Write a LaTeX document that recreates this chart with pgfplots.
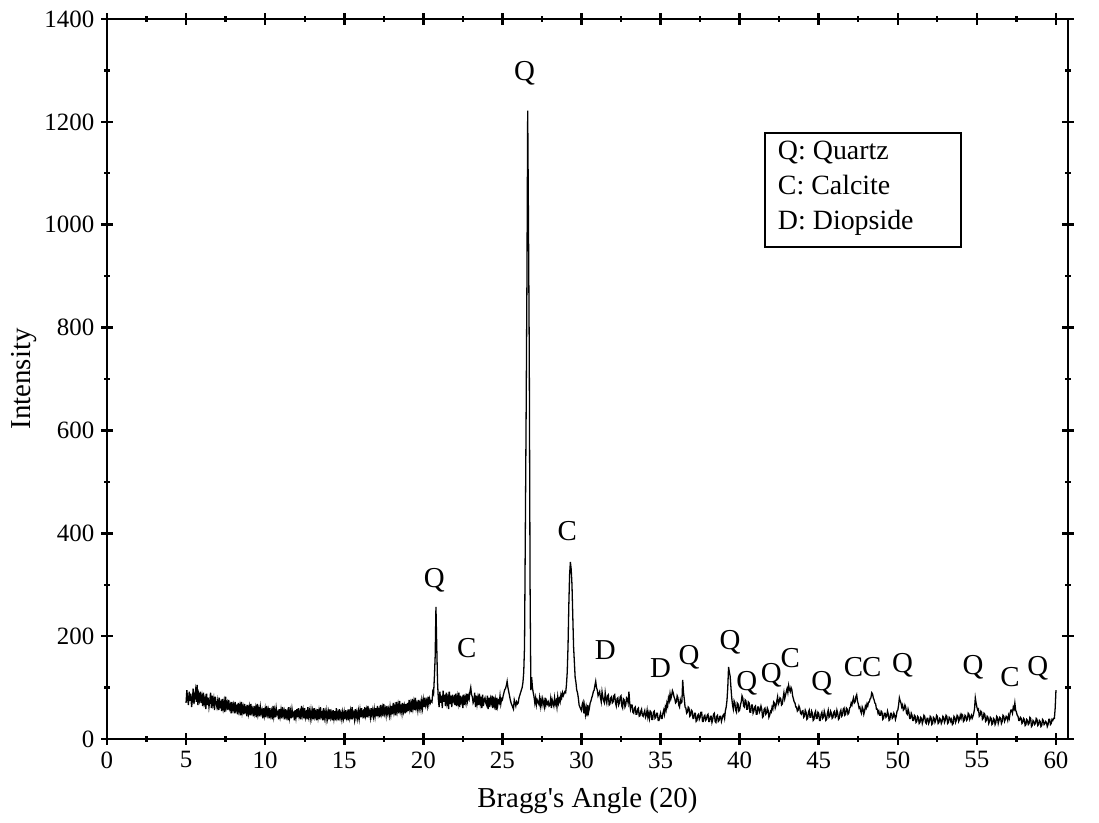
\documentclass[border=0pt]{standalone}
\usepackage{fontspec}
\setmainfont{Liberation Serif}
\usepackage{pgfplots}
\pgfplotsset{compat=1.18}

\begin{document}
\begin{tikzpicture}
\begin{axis}[
  scale only axis, width=16.95cm, height=12.7cm,
  xmin=0, xmax=60.75, ymin=0, ymax=1400,
  xtick={0,5,...,60}, ytick={0,200,...,1400},
  minor tick num=1,
  tick align=center,
  major tick length=0.2cm, minor tick length=0.1cm,
  every major tick/.style={line width=1.3pt, black},
  every minor tick/.style={line width=1.1pt, black},
  axis line style={line width=1pt},
  tick label style={font=\fontsize{12.5}{14}\selectfont},
  /pgf/number format/assume math mode=true,
  /pgf/number format/1000 sep={},
  xlabel={Bragg\textquotesingle s Angle (20)}, ylabel={Intensity},
  label style={font=\fontsize{14.5}{17}\selectfont},
  xlabel style={at={(axis description cs:0.5,-0.085)}, anchor=center},
  ylabel style={at={(axis description cs:-0.086,0.5)}, anchor=center},
  clip=false,
]
% ---- XRD pattern (0.05 deg steps) ----
\addplot[black, line width=0.65pt] coordinates {
(5.00,70)(5.05,95)(5.10,78)(5.15,66)(5.20,92)(5.25,74)(5.30,88)(5.35,62)(5.40,75)(5.45,98)(5.50,68)(5.55,84)(5.60,95)(5.65,72)(5.70,105)(5.75,66)(5.80,86)(5.85,76)(5.90,92)(5.95,70)
(6.00,82)(6.05,64)(6.10,90)(6.15,70)(6.20,78)(6.25,58)(6.30,88)(6.35,66)(6.40,80)(6.45,62)(6.50,74)(6.55,90)(6.60,60)(6.65,84)(6.70,68)(6.75,78)(6.80,56)(6.85,82)(6.90,70)(6.95,62)
(7.00,74)(7.05,56)(7.10,80)(7.15,64)(7.20,70)(7.25,54)(7.30,78)(7.35,60)(7.40,72)(7.45,52)(7.50,82)(7.55,62)(7.60,70)(7.65,56)(7.70,76)(7.75,60)(7.80,66)(7.85,50)(7.90,72)(7.95,58)
(8.00,66)(8.05,50)(8.10,72)(8.15,56)(8.20,62)(8.25,48)(8.30,70)(8.35,54)(8.40,64)(8.45,46)(8.50,72)(8.55,52)(8.60,62)(8.65,48)(8.70,68)(8.75,54)(8.80,60)(8.85,44)(8.90,66)(8.95,50)
(9.00,62)(9.05,46)(9.10,68)(9.15,52)(9.20,58)(9.25,44)(9.30,64)(9.35,50)(9.40,60)(9.45,42)(9.50,68)(9.55,48)(9.60,58)(9.65,44)(9.70,62)(9.75,50)(9.80,56)(9.85,40)(9.90,60)(9.95,46)
(10.00,58)(10.05,42)(10.10,64)(10.15,48)(10.20,56)(10.25,40)(10.30,60)(10.35,46)(10.40,54)(10.45,38)(10.50,64)(10.55,44)(10.60,56)(10.65,42)(10.70,60)(10.75,48)(10.80,52)(10.85,38)(10.90,58)(10.95,44)
(11.00,56)(11.05,40)(11.10,62)(11.15,46)(11.20,54)(11.25,38)(11.30,58)(11.35,44)(11.40,52)(11.45,36)(11.50,62)(11.55,42)(11.60,54)(11.65,40)(11.70,58)(11.75,46)(11.80,50)(11.85,36)(11.90,56)(11.95,42)
(12.00,58)(12.05,42)(12.10,60)(12.15,44)(12.20,52)(12.25,38)(12.30,64)(12.35,46)(12.40,56)(12.45,40)(12.50,60)(12.55,42)(12.60,50)(12.65,38)(12.70,62)(12.75,44)(12.80,54)(12.85,40)(12.90,56)(12.95,42)
(13.00,54)(13.05,38)(13.10,60)(13.15,44)(13.20,52)(13.25,36)(13.30,58)(13.35,42)(13.40,54)(13.45,38)(13.50,62)(13.55,44)(13.60,50)(13.65,36)(13.70,60)(13.75,42)(13.80,52)(13.85,38)(13.90,54)(13.95,40)
(14.00,52)(14.05,38)(14.10,58)(14.15,42)(14.20,50)(14.25,36)(14.30,56)(14.35,40)(14.40,54)(14.45,36)(14.50,60)(14.55,42)(14.60,50)(14.65,36)(14.70,58)(14.75,42)(14.80,50)(14.85,38)(14.90,52)(14.95,40)
(15.00,52)(15.05,38)(15.10,56)(15.15,42)(15.20,50)(15.25,36)(15.30,58)(15.35,42)(15.40,54)(15.45,38)(15.50,62)(15.55,44)(15.60,50)(15.65,38)(15.70,58)(15.75,42)(15.80,52)(15.85,40)(15.90,54)(15.95,40)
(16.00,56)(16.05,42)(16.10,60)(16.15,46)(16.20,52)(16.25,40)(16.30,62)(16.35,46)(16.40,56)(16.45,42)(16.50,64)(16.55,48)(16.60,54)(16.65,42)(16.70,60)(16.75,46)(16.80,56)(16.85,44)(16.90,58)(16.95,44)
(17.00,60)(17.05,44)(17.10,64)(17.15,48)(17.20,56)(17.25,42)(17.30,66)(17.35,50)(17.40,60)(17.45,44)(17.50,68)(17.55,50)(17.60,58)(17.65,46)(17.70,64)(17.75,50)(17.80,58)(17.85,46)(17.90,62)(17.95,48)
(18.00,64)(18.05,48)(18.10,70)(18.15,52)(18.20,62)(18.25,46)(18.30,72)(18.35,54)(18.40,66)(18.45,50)(18.50,74)(18.55,54)(18.60,62)(18.65,50)(18.70,70)(18.75,54)(18.80,64)(18.85,50)(18.90,68)(18.95,52)
(19.00,70)(19.05,54)(19.10,76)(19.15,58)(19.20,68)(19.25,52)(19.30,78)(19.35,60)(19.40,72)(19.45,56)(19.50,80)(19.55,60)(19.60,68)(19.65,56)(19.70,76)(19.75,60)(19.80,70)(19.85,58)(19.90,74)(19.95,60)
(20.00,76)(20.05,62)(20.10,80)(20.15,66)(20.20,74)(20.25,64)(20.30,82)(20.35,68)(20.40,78)(20.45,70)(20.50,74)(20.55,72)(20.60,92)(20.65,88)(20.70,120)(20.75,160)(20.80,257)(20.85,180)(20.90,110)(20.95,78)
(21.00,62)(21.05,92)(21.10,70)(21.15,84)(21.20,60)(21.25,94)(21.30,72)(21.35,86)(21.40,64)(21.45,90)(21.50,70)(21.55,80)(21.60,58)(21.65,92)(21.70,68)(21.75,84)(21.80,62)(21.85,86)(21.90,74)(21.95,80)
(22.00,66)(22.05,88)(22.10,64)(22.15,82)(22.20,70)(22.25,90)(22.30,62)(22.35,84)(22.40,72)(22.45,78)(22.50,60)(22.55,86)(22.60,66)(22.65,80)(22.70,70)(22.75,88)(22.80,74)(22.85,84)(22.90,78)(22.95,92)
(23.00,100)(23.05,86)(23.10,82)(23.15,70)(23.20,74)(23.25,90)(23.30,62)(23.35,84)(23.40,68)(23.45,80)(23.50,66)(23.55,88)(23.60,70)(23.65,82)(23.70,60)(23.75,86)(23.80,64)(23.85,76)(23.90,80)(23.95,70)
(24.00,66)(24.05,84)(24.10,58)(24.15,80)(24.20,62)(24.25,78)(24.30,70)(24.35,84)(24.40,60)(24.45,82)(24.50,66)(24.55,76)(24.60,56)(24.65,80)(24.70,64)(24.75,74)(24.80,70)(24.85,84)(24.90,68)(24.95,78)
(25.00,76)(25.05,84)(25.10,90)(25.15,96)(25.20,98)(25.25,104)(25.30,112)(25.35,100)(25.40,92)(25.45,84)(25.50,76)(25.55,70)(25.60,66)(25.65,62)(25.70,58)(25.75,76)(25.80,70)(25.85,64)(25.90,72)(25.95,68)
(26.00,70)(26.05,80)(26.10,85)(26.15,90)(26.20,95)(26.25,100)(26.30,110)(26.35,130)(26.40,180)(26.45,400)(26.50,625)(26.55,880)(26.60,1222)(26.65,1000)(26.70,745)(26.75,300)(26.80,95)(26.85,120)(26.90,100)(26.95,90)
(27.00,82)(27.05,70)(27.10,80)(27.15,66)(27.20,76)(27.25,72)(27.30,68)(27.35,80)(27.40,64)(27.45,76)(27.50,66)(27.55,78)(27.60,70)(27.65,62)(27.70,80)(27.75,66)(27.80,74)(27.85,68)(27.90,72)(27.95,64)
(28.00,66)(28.05,78)(28.10,60)(28.15,76)(28.20,70)(28.25,64)(28.30,80)(28.35,68)(28.40,74)(28.45,62)(28.50,82)(28.55,70)(28.60,78)(28.65,72)(28.70,86)(28.75,80)(28.80,90)(28.85,84)(28.90,88)(28.95,92)
(29.00,90)(29.05,105)(29.10,130)(29.15,180)(29.20,260)(29.25,320)(29.30,344)(29.35,330)(29.40,300)(29.45,240)(29.50,180)(29.55,150)(29.60,120)(29.65,110)(29.70,95)(29.75,90)(29.80,80)(29.85,66)(29.90,62)(29.95,58)
(30.00,55)(30.05,68)(30.10,72)(30.15,50)(30.20,64)(30.25,48)(30.30,60)(30.35,44)(30.40,66)(30.45,52)(30.50,60)(30.55,70)(30.60,74)(30.65,80)(30.70,85)(30.75,92)(30.80,95)(30.85,104)(30.90,112)(30.95,100)
(31.00,95)(31.05,84)(31.10,88)(31.15,92)(31.20,80)(31.25,72)(31.30,92)(31.35,82)(31.40,74)(31.45,70)(31.50,90)(31.55,78)(31.60,70)(31.65,84)(31.70,86)(31.75,66)(31.80,68)(31.85,80)(31.90,82)(31.95,70)
(32.00,72)(32.05,84)(32.10,86)(32.15,70)(32.20,64)(32.25,78)(32.30,80)(32.35,66)(32.40,70)(32.45,82)(32.50,84)(32.55,64)(32.60,60)(32.65,78)(32.70,76)(32.75,62)(32.80,66)(32.85,80)(32.90,78)(32.95,70)
(33.00,92)(33.05,70)(33.10,58)(33.15,66)(33.20,66)(33.25,52)(33.30,50)(33.35,60)(33.40,62)(33.45,48)(33.50,48)(33.55,58)(33.60,60)(33.65,44)(33.70,45)(33.75,54)(33.80,58)(33.85,46)(33.90,44)(33.95,50)
(34.00,55)(34.05,42)(34.10,46)(34.15,56)(34.20,42)(34.25,50)(34.30,40)(34.35,54)(34.40,52)(34.45,38)(34.50,38)(34.55,52)(34.60,54)(34.65,40)(34.70,42)(34.75,50)(34.80,50)(34.85,36)(34.90,36)(34.95,44)
(35.00,50)(35.05,40)(35.10,40)(35.15,50)(35.20,56)(35.25,48)(35.30,62)(35.35,56)(35.40,70)(35.45,64)(35.50,80)(35.55,74)(35.60,88)(35.65,78)(35.70,84)(35.75,94)(35.80,90)(35.85,82)(35.90,78)(35.95,70)
(36.00,72)(36.05,84)(36.10,80)(36.15,66)(36.20,62)(36.25,76)(36.30,70)(36.35,72)(36.40,115)(36.45,90)(36.50,78)(36.55,62)(36.60,60)(36.65,50)(36.70,52)(36.75,62)(36.80,60)(36.85,44)(36.90,46)(36.95,56)
(37.00,54)(37.05,40)(37.10,40)(37.15,50)(37.20,50)(37.25,34)(37.30,36)(37.35,46)(37.40,48)(37.45,38)(37.50,42)(37.55,52)(37.60,52)(37.65,34)(37.70,34)(37.75,44)(37.80,46)(37.85,36)(37.90,38)(37.95,46)
(38.00,48)(38.05,34)(38.10,34)(38.15,44)(38.20,44)(38.25,32)(38.30,38)(38.35,48)(38.40,50)(38.45,34)(38.50,32)(38.55,44)(38.60,46)(38.65,34)(38.70,36)(38.75,44)(38.80,44)(38.85,34)(38.90,40)(38.95,46)
(39.00,48)(39.05,40)(39.10,55)(39.15,62)(39.20,75)(39.25,100)(39.30,140)(39.35,130)(39.40,122)(39.45,100)(39.50,80)(39.55,66)(39.60,58)(39.65,74)(39.70,70)(39.75,56)(39.80,52)(39.85,70)(39.90,68)(39.95,54)
(40.00,56)(40.05,66)(40.10,72)(40.15,84)(40.20,80)(40.25,64)(40.30,62)(40.35,76)(40.40,74)(40.45,58)(40.50,58)(40.55,72)(40.60,70)(40.65,52)(40.70,52)(40.75,66)(40.80,66)(40.85,50)(40.90,54)(40.95,62)
(41.00,64)(41.05,48)(41.10,48)(41.15,62)(41.20,62)(41.25,52)(41.30,56)(41.35,64)(41.40,58)(41.45,42)(41.50,44)(41.55,58)(41.60,60)(41.65,48)(41.70,50)(41.75,60)(41.80,56)(41.85,42)(41.90,46)(41.95,54)
(42.00,52)(42.05,62)(42.10,58)(42.15,72)(42.20,70)(42.25,60)(42.30,65)(42.35,74)(42.40,82)(42.45,68)(42.50,72)(42.55,80)(42.60,78)(42.65,66)(42.70,68)(42.75,80)(42.80,90)(42.85,78)(42.90,85)(42.95,92)
(43.00,98)(43.05,90)(43.10,104)(43.15,96)(43.20,92)(43.25,100)(43.30,96)(43.35,84)(43.40,78)(43.45,72)(43.50,70)(43.55,62)(43.60,62)(43.65,54)(43.70,56)(43.75,64)(43.80,60)(43.85,50)(43.90,48)(43.95,54)
(44.00,55)(44.05,42)(44.10,44)(44.15,56)(44.20,52)(44.25,38)(44.30,40)(44.35,52)(44.40,56)(44.45,42)(44.50,42)(44.55,54)(44.60,50)(44.65,36)(44.70,38)(44.75,50)(44.80,54)(44.85,40)(44.90,40)(44.95,52)
(45.00,50)(45.05,36)(45.10,36)(45.15,48)(45.20,52)(45.25,40)(45.30,42)(45.35,54)(45.40,48)(45.45,36)(45.50,38)(45.55,50)(45.60,56)(45.65,42)(45.70,44)(45.75,54)(45.80,50)(45.85,40)(45.90,42)(45.95,52)
(46.00,54)(46.05,42)(46.10,44)(46.15,56)(46.20,50)(46.25,38)(46.30,40)(46.35,52)(46.40,56)(46.45,44)(46.50,46)(46.55,58)(46.60,60)(46.65,46)(46.70,48)(46.75,60)(46.80,58)(46.85,48)(46.90,50)(46.95,60)
(47.00,62)(47.05,70)(47.10,66)(47.15,74)(47.20,80)(47.25,70)(47.30,72)(47.35,82)(47.40,86)(47.45,74)(47.50,68)(47.55,60)(47.60,62)(47.65,54)(47.70,50)(47.75,62)(47.80,58)(47.85,48)(47.90,54)(47.95,64)
(48.00,60)(48.05,68)(48.10,64)(48.15,72)(48.20,72)(48.25,78)(48.30,80)(48.35,90)(48.40,88)(48.45,80)(48.50,76)(48.55,70)(48.60,68)(48.65,58)(48.70,58)(48.75,50)(48.80,54)(48.85,46)(48.90,46)(48.95,54)
(49.00,52)(49.05,38)(49.10,40)(49.15,50)(49.20,50)(49.25,42)(49.30,44)(49.35,54)(49.40,48)(49.45,36)(49.50,38)(49.55,50)(49.60,50)(49.65,40)(49.70,42)(49.75,50)(49.80,46)(49.85,38)(49.90,44)(49.95,54)
(50.00,56)(50.05,66)(50.10,80)(50.15,74)(50.20,70)(50.25,62)(50.30,66)(50.35,56)(50.40,58)(50.45,66)(50.50,62)(50.55,50)(50.60,48)(50.65,58)(50.70,52)(50.75,40)(50.80,40)(50.85,50)(50.90,46)(50.95,36)
(51.00,36)(51.05,46)(51.10,44)(51.15,32)(51.20,34)(51.25,44)(51.30,42)(51.35,30)(51.40,32)(51.45,42)(51.50,40)(51.55,30)(51.60,36)(51.65,46)(51.70,44)(51.75,32)(51.80,30)(51.85,40)(51.90,40)(51.95,30)
(52.00,34)(52.05,44)(52.10,42)(52.15,28)(52.20,30)(52.25,42)(52.30,40)(52.35,32)(52.40,36)(52.45,46)(52.50,44)(52.55,30)(52.60,32)(52.65,40)(52.70,38)(52.75,30)(52.80,34)(52.85,44)(52.90,42)(52.95,32)
(53.00,36)(53.05,46)(53.10,44)(53.15,30)(53.20,32)(53.25,42)(53.30,40)(53.35,34)(53.40,38)(53.45,28)(53.50,30)(53.55,44)(53.60,42)(53.65,32)(53.70,36)(53.75,46)(53.80,44)(53.85,34)(53.90,38)(53.95,46)
(54.00,40)(54.05,48)(54.10,46)(54.15,34)(54.20,36)(54.25,46)(54.30,44)(54.35,36)(54.40,38)(54.45,50)(54.50,48)(54.55,38)(54.60,42)(54.65,46)(54.70,40)(54.75,44)(54.80,50)(54.85,58)(54.90,80)(54.95,70)
(55.00,62)(55.05,56)(55.10,58)(55.15,44)(55.20,46)(55.25,54)(55.30,52)(55.35,38)(55.40,40)(55.45,50)(55.50,48)(55.55,34)(55.60,36)(55.65,44)(55.70,42)(55.75,30)(55.80,34)(55.85,42)(55.90,40)(55.95,28)
(56.00,30)(56.05,40)(56.10,38)(56.15,28)(56.20,32)(56.25,44)(56.30,42)(56.35,30)(56.40,36)(56.45,42)(56.50,40)(56.55,30)(56.60,34)(56.65,46)(56.70,44)(56.75,34)(56.80,38)(56.85,44)(56.90,42)(56.95,36)
(57.00,46)(57.05,40)(57.10,50)(57.15,56)(57.20,56)(57.25,50)(57.30,62)(57.35,58)(57.40,70)(57.45,56)(57.50,52)(57.55,46)(57.60,44)(57.65,36)(57.70,36)(57.75,42)(57.80,40)(57.85,30)(57.90,32)(57.95,40)
(58.00,38)(58.05,26)(58.10,28)(58.15,38)(58.20,36)(58.25,28)(58.30,30)(58.35,42)(58.40,40)(58.45,24)(58.50,26)(58.55,36)(58.60,34)(58.65,28)(58.70,30)(58.75,40)(58.80,38)(58.85,26)(58.90,28)(58.95,36)
(59.00,34)(59.05,24)(59.10,26)(59.15,38)(59.20,36)(59.25,28)(59.30,30)(59.35,34)(59.40,32)(59.45,24)(59.50,28)(59.55,38)(59.60,38)(59.65,28)(59.70,30)(59.75,38)(59.80,36)(59.85,40)(59.90,40)(59.95,60)
(60.00,95)
};
% ---- phase labels ----
\begin{scope}[every node/.style={font=\fontsize{14.5}{17}\selectfont}]
\node at (axis cs:20.7,309) {Q};
\node at (axis cs:22.75,177) {C};
\node at (axis cs:26.4,1295) {Q};
\node at (axis cs:29.1,405) {C};
\node at (axis cs:31.5,173) {D};
\node at (axis cs:35.0,138) {D};
\node at (axis cs:36.8,158) {Q};
\node at (axis cs:39.4,187) {Q};
\node at (axis cs:40.45,109) {Q};
\node at (axis cs:42.0,124) {Q};
\node at (axis cs:43.2,158) {C};
\node at (axis cs:45.2,109) {Q};
\node at (axis cs:47.2,140) {C};
\node at (axis cs:48.35,140) {C};
\node at (axis cs:50.3,144) {Q};
\node at (axis cs:54.75,140) {Q};
\node at (axis cs:57.1,121) {C};
\node at (axis cs:58.85,138) {Q};
\end{scope}
% legend box
\draw[line width=0.9pt] (axis cs:41.6,957) rectangle (axis cs:54.0,1179);
\node[anchor=north west, align=left, font=\fontsize{14}{17.5}\selectfont, inner sep=0pt]
  at (axis cs:42.4,1163) {Q: Quartz\\C: Calcite\\D: Diopside};
\end{axis}
\path (-1.887cm,-1.482cm) rectangle (17.50cm,13.035cm);
\end{tikzpicture}
\end{document}
